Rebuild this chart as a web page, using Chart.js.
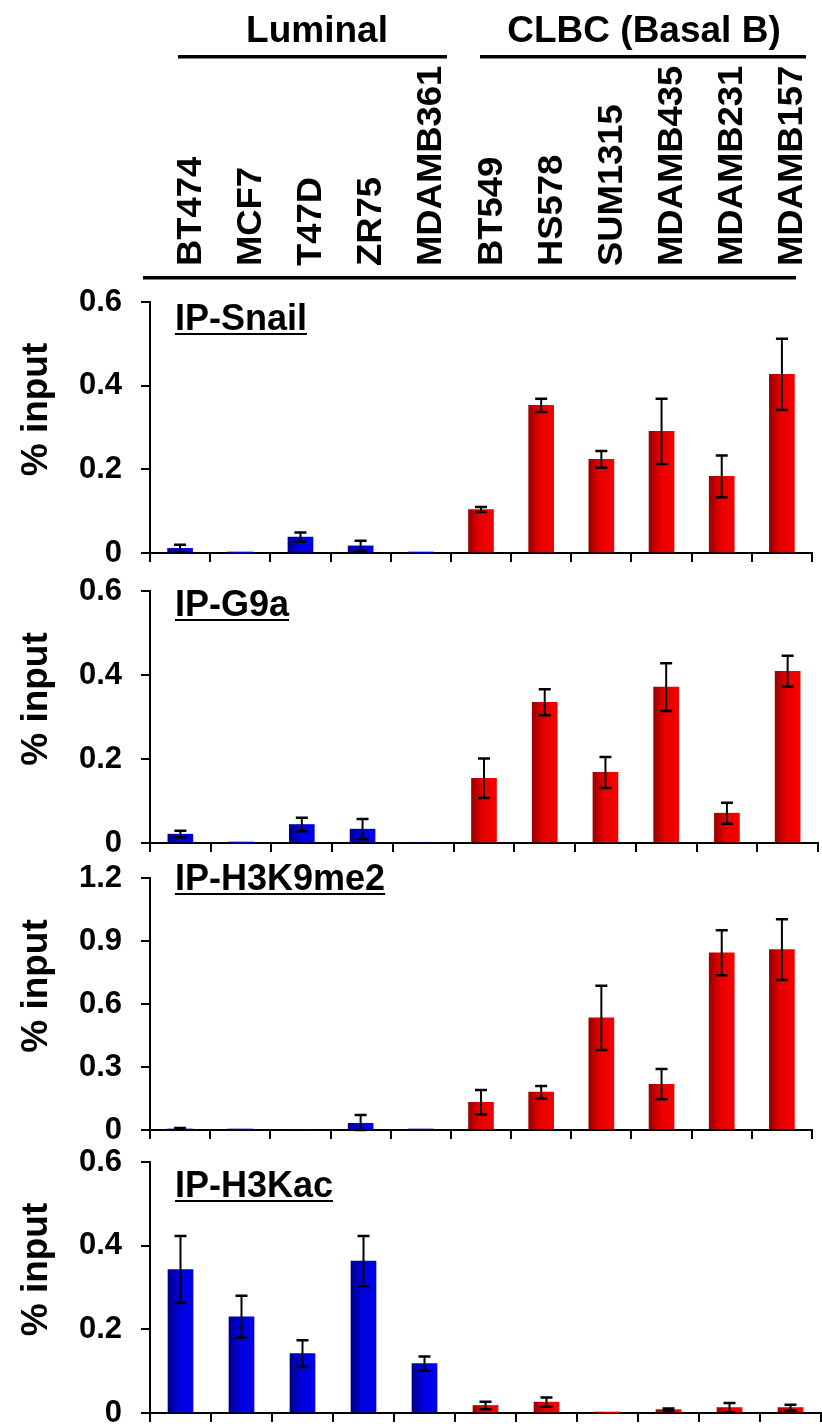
<!DOCTYPE html>
<html>
<head>
<meta charset="utf-8">
<script src="https://cdn.jsdelivr.net/npm/chart.js@4"></script>
<style>
	html, body { margin: 0; padding: 0; background: #fff; }
	body { width: 822px; height: 1426px; position: relative; overflow: hidden; }
	canvas { position: absolute; left: 0; }
</style>
</head>
<body>
<canvas id="c1" width="822" height="573" style="top:0"></canvas>
<canvas id="c2" width="822" height="297" style="top:566px"></canvas>
<canvas id="c3" width="822" height="297" style="top:853px"></canvas>
<canvas id="c4" width="822" height="289" style="top:1137px"></canvas>
<script>
const cellLines = ['BT474', 'MCF7', 'T47D', 'ZR75', 'MDAMB361', 'BT549', 'HS578', 'SUM1315', 'MDAMB435', 'MDAMB231', 'MDAMB157'];
const groupNames = ['Luminal', 'CLBC (Basal B)'];
const cellGroup = [0, 0, 0, 0, 0, 1, 1, 1, 1, 1, 1];

// % input, mean and error per cell line
const snailMean = [0.011, 0.001, 0.038, 0.017, 0.001, 0.104, 0.353, 0.224, 0.291, 0.183, 0.427];
const snailErr = [0.009, 0, 0.011, 0.012, 0, 0.006, 0.016, 0.020, 0.078, 0.050, 0.085];
const g9aMean = [0.021, 0.001, 0.044, 0.033, 0, 0.154, 0.335, 0.168, 0.371, 0.071, 0.409];
const g9aErr = [0.008, 0, 0.016, 0.024, 0, 0.047, 0.031, 0.037, 0.057, 0.025, 0.037];
const h3k9Mean = [0.005, 0.003, 0, 0.032, 0.004, 0.132, 0.180, 0.534, 0.218, 0.844, 0.859];
const h3k9Err = [0.004, 0, 0, 0.040, 0, 0.058, 0.030, 0.153, 0.072, 0.107, 0.145];
const h3kacMean = [0.343, 0.230, 0.142, 0.363, 0.118, 0.018, 0.026, 0.001, 0.008, 0.013, 0.013];
const h3kacErr = [0.080, 0.050, 0.032, 0.060, 0.017, 0.009, 0.011, 0, 0.003, 0.011, 0.007];

const FONT = '"Liberation Sans", Arial, sans-serif';
Chart.defaults.font.family = FONT;
Chart.defaults.color = '#000';

// padTop / padBottom place the plot area inside each canvas
const panels = [
	{ id: 'c1', title: 'IP-Snail', mean: snailMean, err: snailErr, max: 0.6, step: 0.2, padTop: 302, padBottom: 8, padRight: 10, titleDy: 28, header: true },
	{ id: 'c2', title: 'IP-G9a', mean: g9aMean, err: g9aErr, max: 0.6, step: 0.2, padTop: 25, padBottom: 8, padRight: 4, titleDy: 25 },
	{ id: 'c3', title: 'IP-H3K9me2', mean: h3k9Mean, err: h3k9Err, max: 1.2, step: 0.3, padTop: 25, padBottom: 8, padRight: 10, titleDy: 12 },
	{ id: 'c4', title: 'IP-H3Kac', mean: h3kacMean, err: h3kacErr, max: 0.6, step: 0.2, padTop: 25, padBottom: 1, padRight: 1, titleDy: 35 }
];

const BAR_W = 25;

// dark left edge fading into the flat colour, like the original bars
function barFill(context) {
	const chart = context.chart, xs = chart.scales.x;
	const red = cellGroup[context.dataIndex] === 1;
	if (!xs || !chart.chartArea) return red ? '#f00' : '#00f';
	const cx = xs.getPixelForValue(context.dataIndex);
	const g = chart.ctx.createLinearGradient(cx - BAR_W / 2, 0, cx + BAR_W / 2, 0);
	const stops = red ? ['#990000', '#e80000', '#f80000'] : ['#00008a', '#0000de', '#0000f0'];
	g.addColorStop(0, stops[0]);
	g.addColorStop(0.45, stops[1]);
	g.addColorStop(1, stops[2]);
	return g;
}

const errorBars = {
	id: 'errorBars',
	afterDatasetsDraw(chart, args, opts) {
		const { ctx, scales: { x, y } } = chart;
		const mean = chart.data.datasets[0].data;
		ctx.save();
		ctx.strokeStyle = '#000';
		mean.forEach((v, i) => {
			const e = opts.err[i];
			if (!e) return;
			const cx = x.getPixelForValue(i),
				top = y.getPixelForValue(v + e),
				bot = y.getPixelForValue(Math.max(v - e, 0));
			ctx.lineWidth = 2;
			ctx.beginPath();
			ctx.moveTo(cx, top);
			ctx.lineTo(cx, bot);
			ctx.stroke();
			ctx.lineWidth = 2.5;
			ctx.beginPath();
			ctx.moveTo(cx - 6, top);
			ctx.lineTo(cx + 6, top);
			ctx.moveTo(cx - 6, bot);
			ctx.lineTo(cx + 6, bot);
			ctx.stroke();
		});
		ctx.restore();
	}
};

function drawHeader(chart) {
	const { ctx, scales: { x } } = chart;
	ctx.font = `bold 37px ${FONT}`;
	ctx.textAlign = 'center';
	ctx.textBaseline = 'alphabetic';
	ctx.fillText(groupNames[0], 317, 42);
	ctx.fillText(groupNames[1], 644, 42);
	ctx.fillRect(178, 55, 269, 3.5);
	ctx.fillRect(480, 55, 326, 3.5);
	ctx.fillRect(143, 276, 653, 3.5);
	// cell line names, rotated, sitting on the lower rule
	ctx.font = `bold 35px ${FONT}`;
	ctx.textAlign = 'left';
	cellLines.forEach((name, i) => {
		ctx.save();
		ctx.translate(x.getPixelForValue(i) + 8 + 12.5, 266);
		ctx.rotate(-Math.PI / 2);
		ctx.scale(1.04, 1);
		ctx.fillText(name, 0, 0);
		ctx.restore();
	});
}

const panelText = {
	id: 'panelText',
	afterDraw(chart, args, o) {
		const { ctx, chartArea: a } = chart;
		ctx.save();
		ctx.fillStyle = '#000';
		ctx.textBaseline = 'alphabetic';

		// y axis title
		ctx.save();
		ctx.translate(47, (a.top + a.bottom) / 2 - 18);
		ctx.rotate(-Math.PI / 2);
		ctx.font = `bold 37px ${FONT}`;
		ctx.textAlign = 'center';
		ctx.fillText('% input', 0, 0);
		ctx.restore();

		// underlined panel title
		ctx.font = `bold 36px ${FONT}`;
		ctx.textAlign = 'left';
		const ty = a.top + o.titleDy;
		ctx.fillText(o.title, 175, ty);
		ctx.fillRect(175, ty + 3, ctx.measureText(o.title).width, 2);

		if (o.header) drawHeader(chart);
		ctx.restore();
	}
};

panels.forEach(p => {
	new Chart(document.getElementById(p.id), {
		type: 'bar',
		data: {
			labels: cellLines,
			datasets: [{
				data: p.mean,
				backgroundColor: barFill,
				borderWidth: 0,
				barThickness: BAR_W
			}]
		},
		options: {
			responsive: false,
			animation: false,
			layout: { padding: { top: p.padTop, right: p.padRight, left: 0, bottom: p.padBottom } },
			scales: {
				x: {
					offset: true,
					ticks: { display: false },
					grid: { offset: true, drawOnChartArea: false, tickLength: 9, color: '#000', lineWidth: 2 },
					border: { color: '#000', width: 2 },
					afterFit(s) { s.height = 12; }
				},
				y: {
					min: 0,
					max: p.max,
					ticks: {
						stepSize: p.step,
						color: '#000',
						padding: 19,
						font: { size: 31, weight: 'bold' },
						callback: v => v === 0 ? '0' : v.toFixed(1)
					},
					grid: { drawOnChartArea: false, tickLength: 9, color: '#000', lineWidth: 2 },
					border: { color: '#000', width: 2 },
					afterFit(s) {
						s.width = 150;
						s.paddingTop = 0;
						s.paddingBottom = 0;
					}
				}
			},
			plugins: {
				legend: { display: false },
				tooltip: { enabled: false },
				errorBars: { err: p.err },
				panelText: { title: p.title, titleDy: p.titleDy, header: !!p.header }
			}
		},
		plugins: [errorBars, panelText]
	});
});
</script>
</body>
</html>
